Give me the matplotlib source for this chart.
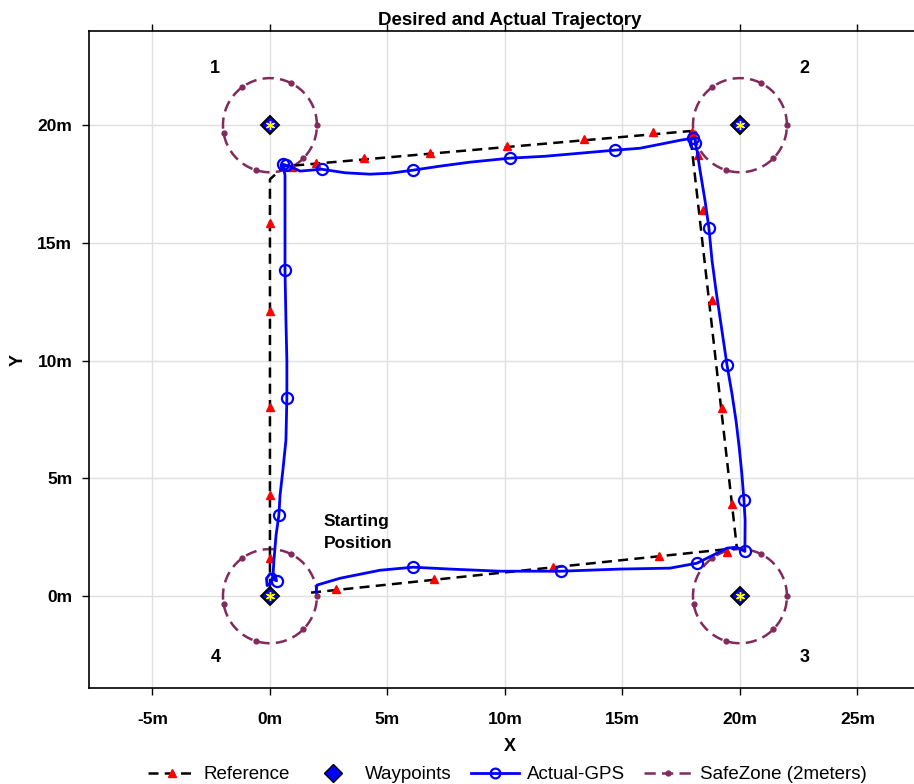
import numpy as np
import matplotlib
matplotlib.use("Agg")
import matplotlib.pyplot as plt
from matplotlib.lines import Line2D

plt.rcParams['font.family'] = ['Liberation Sans', 'DejaVu Sans']

# ---------------- data ----------------
ref_x = [1.75, 19.87, 17.87, 0.6, 0.0, 0.0]
ref_y = [0.15, 2.04, 19.75, 18.25, 17.7, 0.0]

ref_mark_x = [2.81, 6.98, 12.04, 16.55, 19.45,
              19.66, 19.23, 18.81, 18.43, 18.21,
              17.95, 16.30, 13.36, 10.09, 6.81, 4.00, 1.96, 0.94,
              0.0, 0.0, 0.0, 0.0, 0.0]
ref_mark_y = [0.30, 0.72, 1.23, 1.70, 1.87,
              3.91, 7.98, 12.57, 16.39, 18.73,
              19.70, 19.70, 19.41, 19.11, 18.81, 18.60, 18.39, 18.22,
              15.84, 12.10, 8.03, 4.29, 1.61]

wp_x = [0, 20, 20, 0]
wp_y = [20, 20, 0, 0]
wp_labels = ['1', '2', '3', '4']
safe_radius = 2.0

gps_x = [1.96, 2.00, 2.98, 4.68, 6.09, 7.66, 9.79, 12.38, 14.89, 17.02, 18.17,
         18.85, 19.45, 19.87, 20.21,
         20.22, 20.17, 20.08, 19.97, 19.84, 19.66, 19.45, 19.23, 18.98, 18.81, 18.68,
         18.51, 18.30, 18.17, 18.09, 18.09, 18.00,
         17.45, 16.60, 15.74, 14.68, 13.19, 11.70, 10.21, 8.51, 7.23, 6.09,
         5.11, 4.26, 3.19, 2.20, 1.28, 0.85, 0.68, 0.55,
         0.64, 0.64, 0.64, 0.68, 0.72, 0.72, 0.68, 0.55, 0.43, 0.38,
         0.26, 0.17, 0.13, 0.05, -0.12, -0.15, 0.00, 0.22, 0.28, 0.15]
gps_y = [0.17, 0.47, 0.76, 1.10, 1.23, 1.15, 1.06, 1.06, 1.15, 1.19, 1.40,
         1.74, 2.04, 2.08, 1.90,
         3.23, 4.08, 5.20, 6.30, 7.40, 8.60, 9.81, 11.30, 12.99, 14.27, 15.63,
         16.82, 18.09, 18.94, 19.24, 19.45, 19.45,
         19.36, 19.19, 19.02, 18.94, 18.81, 18.68, 18.60, 18.43, 18.26, 18.09,
         17.96, 17.92, 17.98, 18.13, 18.05, 18.26, 18.30, 18.34,
         17.88, 15.97, 13.84, 11.72, 10.02, 8.41, 6.62, 5.35, 4.29, 3.44,
         2.59, 1.53, 0.89, 0.55, 0.45, 0.75, 0.95, 0.90, 0.65, 0.72]
gps_mark_idx = [4, 7, 10, 14, 16, 21, 25, 29, 31, 35, 38, 41, 45, 48, 49,
                52, 55, 59, 68]

# ---------------- figure ----------------
fig = plt.figure(figsize=(9.14, 7.84), dpi=100)
xlim = (-7.7, 28.1)
ylim = (-3.9, 24.0)
ax = fig.add_axes([89/914, 96/784, (xlim[1]-xlim[0])*23.5/914, 657/784])
ax.set_xlim(*xlim)
ax.set_ylim(*ylim)

ax.grid(True, color='#e0e0e0', linewidth=1.0)
ax.set_axisbelow(True)

safe_col = '#812a5c'
theta = np.arange(0, 2*np.pi, 0.1)
for cx, cy in zip(wp_x, wp_y):
    ax.plot(cx + safe_radius*np.cos(theta), cy + safe_radius*np.sin(theta),
            color=safe_col, linestyle=(0, (4.5, 2.5)), linewidth=1.8,
            marker='o', markersize=3.5, markevery=11, zorder=2)

ax.plot(ref_x, ref_y, color='black', linestyle=(0, (4, 2.5)), linewidth=1.8, zorder=3)
ax.plot(ref_mark_x, ref_mark_y, linestyle='none', marker='^', color='red',
        markersize=6, zorder=3.5)

ax.plot(gps_x, gps_y, color='#0000ff', linewidth=2.0, marker='o', markersize=8,
        markerfacecolor='none', markeredgewidth=1.6, markevery=gps_mark_idx, zorder=4)

ax.plot(wp_x, wp_y, linestyle='none', marker='D', markersize=9.5,
        markerfacecolor='#0000ff', markeredgecolor='black', markeredgewidth=1.4, zorder=5)
ax.plot(wp_x, wp_y, linestyle='none', marker=(6, 2, 0), markersize=6.5,
        color='yellow', markeredgewidth=1.0, zorder=6)

lbl_off = [(-2.35, 2.4), (2.75, 2.4), (2.75, -2.6), (-2.3, -2.6)]
for (cx, cy), lab, (dx, dy) in zip(zip(wp_x, wp_y), wp_labels, lbl_off):
    ax.text(cx + dx, cy + dy, lab, fontsize=13, fontweight='bold',
            ha='center', va='center')

ax.text(2.3, 3.5, 'Starting\nPosition', fontsize=12.5, fontweight='bold',
        ha='left', va='top', linespacing=1.6)

xt = [-5, 0, 5, 10, 15, 20, 25]
yt = [0, 5, 10, 15, 20]
ax.set_xticks(xt)
ax.set_xticklabels([f'{v}m' for v in xt])
ax.set_yticks(yt)
ax.set_yticklabels([f'{v}m' for v in yt])
ax.tick_params(direction='out', length=5, width=1, labelsize=12.5, top=True,
               right=True, pad=12)
for lab in ax.get_xticklabels() + ax.get_yticklabels():
    lab.set_fontweight('bold')
ax.tick_params(axis='y', pad=7)
for s in ax.spines.values():
    s.set_linewidth(1.2)

ax.set_xlabel('X', fontsize=13, fontweight='bold', labelpad=8)
ax.set_ylabel('Y', fontsize=13, fontweight='bold', labelpad=8)
ax.set_title('Desired and Actual Trajectory', fontsize=13.5, fontweight='bold', pad=4)

handles = [
    Line2D([], [], color='black', linestyle=(0, (4, 2.5)), linewidth=1.8,
           marker='^', markerfacecolor='red', markeredgecolor='red', markersize=6),
    Line2D([], [], linestyle='none', marker='D', markersize=9,
           markerfacecolor='#0000ff', markeredgecolor='black'),
    Line2D([], [], color='#0000ff', linewidth=2.0, marker='o', markersize=7,
           markerfacecolor='none', markeredgewidth=1.6),
    Line2D([], [], color=safe_col, linestyle=(0, (4.5, 2.5)), linewidth=1.8,
           marker='o', markersize=3.5),
]
fig.legend(handles, ['Reference', 'Waypoints', 'Actual-GPS', 'SafeZone (2meters)'],
           loc='center', bbox_to_anchor=(0.555, 0.012), ncol=4, frameon=False,
           fontsize=13.5, handlelength=2.6, columnspacing=1.0, handletextpad=0.4)

fig.savefig('out.png', dpi=100)
